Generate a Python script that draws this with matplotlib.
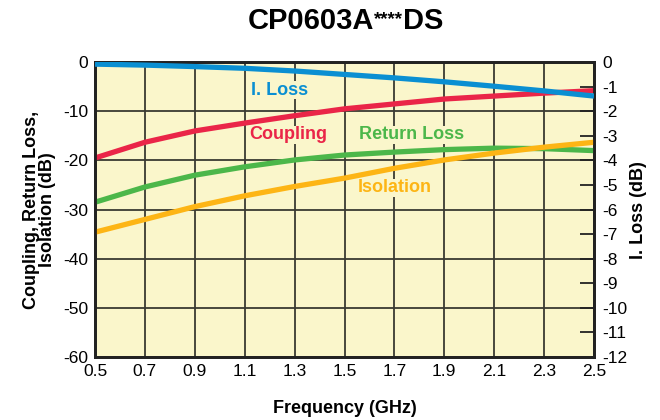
import numpy as np
from matplotlib import pyplot as plt

plt.rcParams['font.family'] = ['Liberation Sans', 'DejaVu Sans']
plt.rcParams['axes.unicode_minus'] = False

# frequency points (GHz)
freq = [0.5, 0.7, 0.9, 1.1, 1.3, 1.5, 1.7, 1.9, 2.1, 2.3, 2.5]
# left axis (dB)
coupling = [-19.5, -16.3, -14.0, -12.4, -10.9, -9.5, -8.5, -7.5, -6.9, -6.3, -5.8]
return_loss = [-28.5, -25.4, -23.0, -21.3, -19.9, -18.9, -18.3, -17.8, -17.5, -17.6, -18.0]
isolation = [-34.6, -32.0, -29.4, -27.2, -25.3, -23.6, -21.6, -19.9, -18.5, -17.3, -16.3]
# right axis (dB)
i_loss = [-0.08, -0.12, -0.18, -0.25, -0.36, -0.5, -0.64, -0.8, -0.98, -1.17, -1.38]

bg = '#faf6cb'
c_blue = '#0a8fd2'
c_red = '#ea2548'
c_green = '#4cb74a'
c_orange = '#fdb515'
grid_c = '#3a3a32'

fig = plt.figure(figsize=(6.6, 4.2), dpi=100)
ax = fig.add_axes([0.144, 0.15, 0.756, 0.702])
ax.set_facecolor(bg)

ax.plot(freq, coupling, color=c_red, lw=3.8, solid_capstyle='butt', zorder=3)
ax.plot(freq, return_loss, color=c_green, lw=3.8, solid_capstyle='butt', zorder=3)
ax.plot(freq, isolation, color=c_orange, lw=3.8, solid_capstyle='butt', zorder=3)

ax.set_xlim(0.5, 2.5)
ax.set_ylim(-60, 0)
ax.set_xticks(freq)
ax.set_xticklabels(['%.1f' % f for f in freq])
ax.set_yticks(np.arange(-60, 1, 10))
ax.grid(True, color=grid_c, lw=1.3)
ax.set_axisbelow(True)
ax.tick_params(axis='both', length=0, labelsize=12.5, pad=5)
for s in ax.spines.values():
    s.set_linewidth(2)
    s.set_color('#222222')

ax2 = ax.twinx()
ax2.plot(freq, i_loss, color=c_blue, lw=3.8, solid_capstyle='butt', zorder=4)
ax2.set_ylim(-12, 0)
ax2.set_yticks(np.arange(-12, 1, 1))
ax2.tick_params(axis='y', direction='in', length=10, width=1.3, color='#222222', labelsize=12.5, pad=6)
for s in ax2.spines.values():
    s.set_linewidth(2)
    s.set_color('#222222')

ax.set_xlabel('Frequency (GHz)', fontsize=13, fontweight='bold', labelpad=15)
ax.set_ylabel('Coupling, Return Loss,\nIsolation (dB)', fontsize=13, fontweight='bold', labelpad=5, linespacing=0.95)
ax2.set_ylabel('I. Loss (dB)', fontsize=13, fontweight='bold', labelpad=2)

box = dict(facecolor=bg, edgecolor='none', pad=0.5)
lbl = dict(fontsize=13, fontweight='bold', ha='center', va='center', bbox=box, zorder=2)
ax.text(1.24, -5.7, 'I. Loss', color=c_blue, **lbl)
ax.text(1.274, -14.8, 'Coupling', color=c_red, **lbl)
ax.text(1.767, -14.8, 'Return Loss', color=c_green, **lbl)
ax.text(1.70, -25.6, 'Isolation', color=c_orange, **lbl)

# title with smaller asterisks
parts = [('CP0603A', 21), ('****', 13.5), ('DS', 21)]
fig.canvas.draw()
r = fig.canvas.get_renderer()
objs = []
for s, fs in parts:
    t = fig.text(0, 0.932, s, fontsize=fs, fontweight='bold', ha='left', va='baseline')
    objs.append(t)
widths = [t.get_window_extent(r).width / fig.bbox.width for t in objs]
x = 0.523 - sum(widths) / 2
for t, w in zip(objs, widths):
    t.set_x(x)
    x += w
objs[1].set_y(0.942)

fig.savefig('out.png', dpi=100)
